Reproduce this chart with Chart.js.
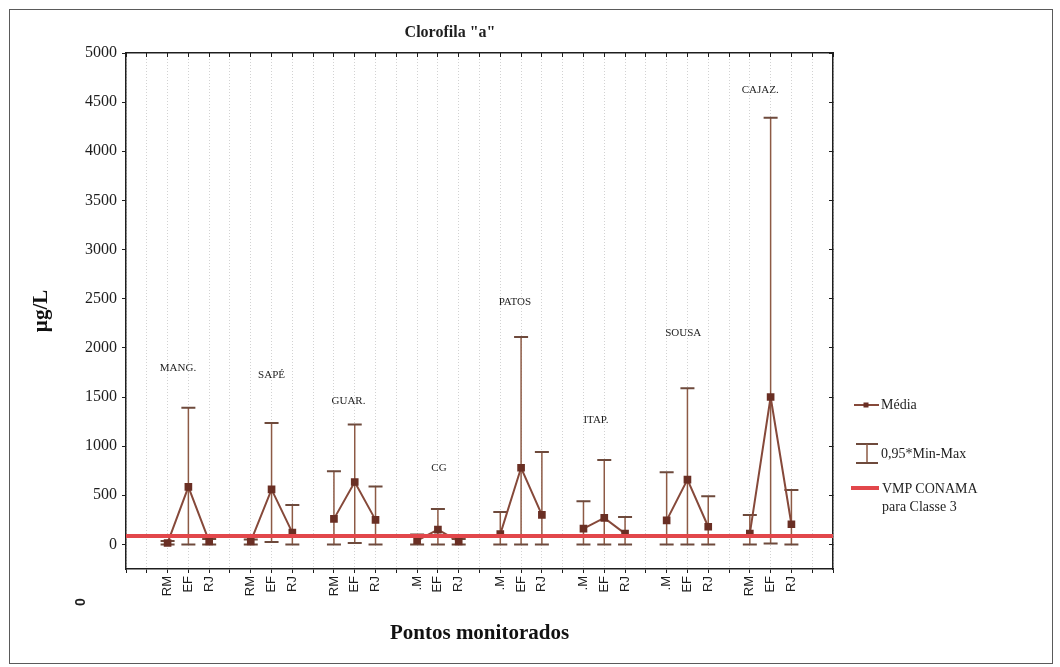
<!DOCTYPE html>
<html lang="pt">
<head>
<meta charset="utf-8">
<title>Clorofila "a"</title>
<script src="https://cdn.jsdelivr.net/npm/chart.js@4.4.1/dist/chart.umd.min.js"></script>
<style>
  html, body { margin: 0; padding: 0; background: #fff; }
  #wrap { position: relative; width: 1060px; height: 667px; overflow: hidden; }
  #frame { position: absolute; left: 9px; top: 9px; width: 1044px; height: 655px; border: 1px solid #5a5a5a; box-sizing: border-box; }
  #chart { position: absolute; left: 0; top: 0; }
  .leg { position: absolute; font-family: "Liberation Serif", "Times New Roman", serif; font-size: 14px; color: #1e1e1e; line-height: 18px; white-space: nowrap; }
  .leg svg { position: absolute; }
  .leg span { position: absolute; top: 0; }
</style>
</head>
<body>
<div id="wrap">
  <div id="frame"></div>
  <canvas id="chart" width="1060" height="667"></canvas>

  <div class="leg" style="left:854px; top:396px;">
    <svg width="26" height="18" style="left:0; top:0;">
      <line x1="0" y1="9" x2="25" y2="9" stroke="#86493a" stroke-width="2"/>
      <rect x="9.5" y="6.5" width="5" height="5" fill="#6a2f24"/>
    </svg>
    <span style="left:27px;">Média</span>
  </div>
  <div class="leg" style="left:855px; top:443px;">
    <svg width="26" height="22" style="left:0; top:0;">
      <line x1="1" y1="1" x2="23" y2="1" stroke="#6e4a3c" stroke-width="2"/>
      <line x1="12" y1="1" x2="12" y2="20" stroke="#8d5a45" stroke-width="1.5"/>
      <line x1="1" y1="20" x2="23" y2="20" stroke="#6e4a3c" stroke-width="2"/>
    </svg>
    <span style="left:26px; top:2px;">0,95*Min-Max</span>
  </div>
  <div class="leg" style="left:851px; top:480px;">
    <svg width="30" height="10" style="left:0; top:3px;">
      <line x1="0" y1="5" x2="28" y2="5" stroke="#e2474b" stroke-width="4"/>
    </svg>
    <span style="left:31px;">VMP CONAMA<br>para Classe 3</span>
  </div>
</div>

<script>
// Clorofila "a" (µg/L) por ponto monitorado: média, mínimo e máximo
const groups = ["MANG.", "SAPÉ", "GUAR.", "CG", "PATOS", "ITAP.", "SOUSA", "CAJAZ."];
const stations = [
  "RM", "EF", "RJ",
  "RM", "EF", "RJ",
  "RM", "EF", "RJ",
  ".M", "EF", "RJ",
  ".M", "EF", "RJ",
  ".M", "EF", "RJ",
  ".M", "EF", "RJ",
  "RM", "EF", "RJ"
];
const media = [
  15, 585, 30,
  30, 560, 120,
  260, 635, 250,
  40, 150, 30,
  105, 780, 300,
  160, 270, 110,
  245, 660, 180,
  110, 1500, 205
];
const minimo = [
  0, 0, 0,
  0, 25, 0,
  0, 15, 0,
  0, 0, 0,
  0, 0, 0,
  0, 0, 0,
  0, 0, 0,
  0, 10, 0
];
const maximo = [
  35, 1390, 55,
  50, 1235, 400,
  745, 1220, 590,
  100, 360, 55,
  330, 2110, 940,
  440, 860, 280,
  735, 1590, 490,
  300, 4340, 555
];
const vmpConama = 85;
const yTicks = [0, 500, 1000, 1500, 2000, 2500, 3000, 3500, 4000, 4500, 5000];

// each group takes 4 slots on the x axis: blank, RM, EF, RJ
const slot = i => 2 + Math.floor(i / 3) * 4 + (i % 3);
const xMax = groups.length * 4 + 2;

const tickLabel = {};
stations.forEach((s, i) => { tickLabel[slot(i)] = s; });

const mediaPoints = [];
media.forEach((v, i) => {
  mediaPoints.push({ x: slot(i), y: v });
  if (i % 3 === 2) mediaPoints.push({ x: slot(i) + 1, y: null });
});

const serif = '"Liberation Serif", "Times New Roman", serif';
const sans = '"Liberation Sans", Arial, sans-serif';
const ink = "#1e1e1e";

const setYTicks = s => { s.ticks = yTicks.map(v => ({ value: v })); };

// vertical min-max bars with caps, drawn under the lines
const errorBars = {
  id: "errorBars",
  beforeDatasetsDraw(chart) {
    const { ctx, scales: { x, y } } = chart;
    ctx.save();
    media.forEach((_, i) => {
      const px = x.getPixelForValue(slot(i));
      const top = y.getPixelForValue(maximo[i]);
      const bot = y.getPixelForValue(minimo[i]);
      ctx.strokeStyle = "#8d5a45";
      ctx.lineWidth = 1.5;
      ctx.beginPath();
      ctx.moveTo(px, top);
      ctx.lineTo(px, bot);
      ctx.stroke();
      ctx.strokeStyle = "#6e4a3c";
      ctx.lineWidth = 2;
      ctx.beginPath();
      ctx.moveTo(px - 7, top); ctx.lineTo(px + 7, top);
      ctx.moveTo(px - 7, bot); ctx.lineTo(px + 7, bot);
      ctx.stroke();
    });
    ctx.restore();
  }
};

// chart title, site names and the stray mark under the axis
const annotations = {
  id: "annotations",
  afterDraw(chart, args, opts) {
    const { ctx, scales: { x, y } } = chart;
    ctx.save();
    ctx.fillStyle = ink;
    ctx.textAlign = "center";
    ctx.textBaseline = "middle";
    ctx.font = "bold 16px " + serif;
    ctx.fillText('Clorofila "a"', 450, 33);

    ctx.font = "11px " + serif;
    groups.forEach((g, k) => {
      const [gx, gy] = opts.groupLabelAt[k];
      ctx.fillText(g, x.getPixelForValue(gx), y.getPixelForValue(gy));
    });

    ctx.translate(81, 602);
    ctx.rotate(-Math.PI / 2);
    ctx.font = "bold 14px " + sans;
    ctx.fillText("0", 0, 0);
    ctx.restore();
  }
};

new Chart(document.getElementById("chart"), {
  type: "line",
  data: {
    datasets: [
      {
        label: "VMP CONAMA para Classe 3",
        data: [{ x: 0, y: vmpConama }, { x: xMax, y: vmpConama }],
        borderColor: "#e2474b",
        borderWidth: 4,
        pointRadius: 0,
      },
      {
        label: "Média",
        data: mediaPoints,
        borderColor: "#86493a",
        borderWidth: 2,
        pointStyle: "rect",
        pointRadius: 4,
        pointBackgroundColor: "#6a2f24",
        pointBorderColor: "#6a2f24",
        spanGaps: false,
        tension: 0,
      },
    ],
  },
  options: {
    responsive: false,
    animation: false,
    devicePixelRatio: 1,
    layout: { padding: { top: 53, right: 227, left: 0, bottom: 0 } },
    scales: {
      x: {
        type: "linear",
        position: "bottom",
        min: 0,
        max: xMax,
        afterFit: s => { s.height = 98; },
        ticks: {
          stepSize: 1,
          autoSkip: false,
          maxRotation: 90,
          minRotation: 90,
          padding: 3,
          color: ink,
          font: { family: sans, size: 13 },
          callback: v => tickLabel[v] || "",
        },
        grid: { color: "#d2d2d2", lineWidth: 1, tickColor: ink, tickLength: 4 },
        border: { color: ink, width: 1.5, dash: [1, 2] },
        title: {
          display: true,
          text: "Pontos monitorados",
          color: "#111",
          font: { family: serif, size: 21, weight: "bold" },
          padding: { top: 0, bottom: 21 },
        },
      },
      y: {
        type: "linear",
        position: "left",
        min: -250,
        max: 5000,
        afterFit: s => { s.width = 126; },
        afterBuildTicks: setYTicks,
        ticks: {
          padding: 5,
          color: ink,
          font: { family: serif, size: 16 },
          callback: v => String(v),
        },
        grid: { drawOnChartArea: false, tickColor: ink, tickLength: 4 },
        border: { color: ink, width: 1.5 },
        title: {
          display: true,
          text: "µg/L",
          color: "#111",
          font: { family: serif, size: 21, weight: "bold" },
          padding: { top: 29, bottom: 0 },
        },
      },
      xTop: {
        type: "linear",
        position: "top",
        min: 0,
        max: xMax,
        afterFit: s => { s.height = 0; },
        ticks: { display: false, stepSize: 1 },
        grid: { drawOnChartArea: false, tickColor: ink, tickLength: -4 },
        border: { color: ink, width: 1.5 },
      },
      yRight: {
        type: "linear",
        position: "right",
        min: -250,
        max: 5000,
        afterFit: s => { s.width = 0; },
        afterBuildTicks: setYTicks,
        ticks: { display: false },
        grid: { drawOnChartArea: false, tickColor: ink, tickLength: -4 },
        border: { color: ink, width: 1.5 },
      },
    },
    plugins: {
      legend: { display: false },
      tooltip: { enabled: false },
      annotations: {
        groupLabelAt: [
          [2.5, 1790], [7.0, 1720], [10.7, 1460], [15.05, 775],
          [18.7, 2470], [22.6, 1260], [26.8, 2145], [30.5, 4620],
        ],
      },
    },
  },
  plugins: [errorBars, annotations],
});
</script>
</body>
</html>
